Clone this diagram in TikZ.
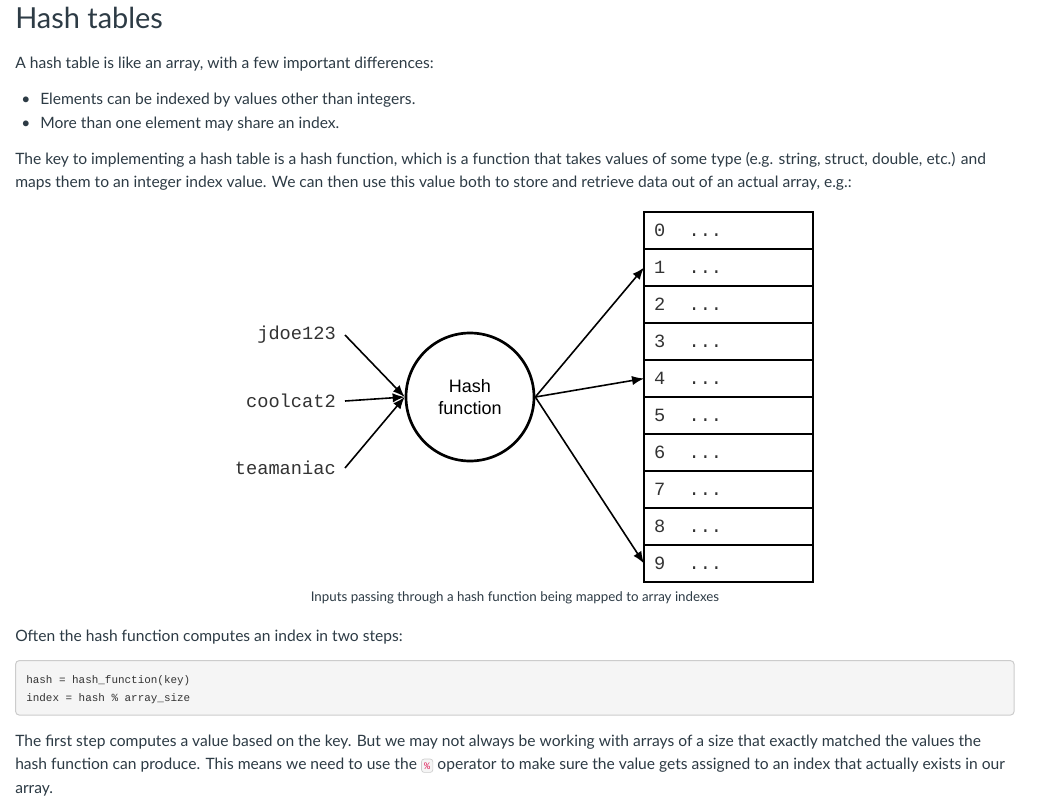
\documentclass[tikz,border=0pt]{standalone}
\usepackage{fontspec}
\setmainfont{Lato}
\newfontfamily\keyfont{Liberation Mono}
\newfontfamily\boxfont{Liberation Sans}
\usetikzlibrary{positioning,arrows.meta}
\definecolor{pagetext}{HTML}{2D3B45}
\definecolor{codebg}{HTML}{F5F5F5}
\definecolor{codeline}{HTML}{CCCCCC}
\definecolor{codered}{HTML}{E0245E}
\definecolor{diagtext}{HTML}{333333}

\tikzset{
  para/.style={anchor=base west, inner sep=0pt, text=pagetext, font=\fontsize{11.7}{14}\selectfont},
  heading/.style={anchor=base west, inner sep=0pt, text=pagetext, font=\fontsize{21.7}{26}\selectfont},
  caption/.style={anchor=base, inner sep=0pt, text=pagetext, font=\fontsize{10}{12}\selectfont},
  cell/.style={draw, line width=1.8pt, outer sep=0pt, minimum height=27.75pt, text width=111.7pt,
    inner xsep=7.5pt, align=left, text=diagtext, font=\keyfont\fontsize{14}{14}\selectfont},
  keylabel/.style={anchor=east, inner xsep=6.75pt, inner ysep=0pt, text=diagtext, font=\keyfont\fontsize{14}{14}\selectfont},
  hashfn/.style={circle, draw, line width=2pt, minimum size=96pt, align=center,
    font=\boxfont\fontsize{13.5}{16.5}\selectfont},
  flow/.style={line width=1.2pt, -{Latex[length=9pt,width=7pt]}},
  codeblock/.style={draw=codeline, fill=codebg, rounded corners=3pt, line width=0.75pt, anchor=north west,
    minimum width=749pt, minimum height=41pt},
  codetxt/.style={anchor=base west, inner sep=0pt, text=diagtext, font=\keyfont\fontsize{8.2}{10}\selectfont},
  inlinecode/.style={anchor=base west, draw=codeline, fill=codebg, rounded corners=2pt, line width=0.5pt,
    inner xsep=2pt, inner ysep=2.5pt, text=codered, font=\keyfont\fontsize{7.5}{9}\selectfont}
}

\begin{document}
\begin{tikzpicture}[x=0.75pt,y=-0.75pt]
\useasboundingbox[fill=white] (0,0) rectangle (1057,807);

\node[heading] (title) at (15,28) {Hash tables};
\node[para] (intro) at (15,68) {A hash table is like an array, with a few important differences:};
\node[para] (dot1) at (21,104) {\textbullet};
\node[para] (bul1) at (40,104) {Elements can be indexed by values other than integers.};
\node[para] (dot2) at (21,128) {\textbullet};
\node[para] (bul2) at (40,128) {More than one element may share an index.};
\node[para] (key1) at (15,164) {The key to implementing a hash table is a hash function, which is a function that takes values of some type (e.g. string, struct, double, etc.) and};
\node[para] (key2) at (15,187) {maps them to an integer index value. We can then use this value both to store and retrieve data out of an actual array, e.g.:};

% the array
\foreach \i in {0,...,9}
  \node[cell] (r\i) at (728.5,{230.5+37*\i}) {\i\hspace{17.5pt}...};

\node[hashfn] (hf) at (470,397) {Hash\\function};

\node[keylabel] (jdoe) at (345,335) {jdoe123};
\node[keylabel] (cool) at (345,401) {coolcat2};
\node[keylabel] (tea) at (345,468) {teamaniac};

\draw[flow] (jdoe.east) -- (hf.west);
\draw[flow] (cool.east) -- (hf.west);
\draw[flow] (tea.east) -- (hf.west);
\draw[flow] (hf.east) -- (r1.west);
\draw[flow] (hf.east) -- (r4.west);
\draw[flow] (hf.east) -- (r9.west);

\node[caption] (cap) at (515,601) {Inputs passing through a hash function being mapped to array indexes};

\node[para] (often) at (15,641) {Often the hash function computes an index in two steps:};

\node[codeblock] (code) at (15,660) {};
\node[codetxt] (code1) at (26,683) {hash = hash\_function(key)};
\node[codetxt] (code2) at (26,701) {index = hash \% array\_size};

\node[para] (last1) at (15,746) {The first step computes a value based on the key. But we may not always be working with arrays of a size that exactly matched the values the};
\node[para] (last2) at (15,769) {hash function can produce. This means we need to use the};
\node[inlinecode] (pct) at ([xshift=3pt]last2.base east) {\%};
\node[para] (last3) at ([xshift=3pt]pct.base east) {operator to make sure the value gets assigned to an index that actually exists in our};
\node[para] (last4) at (15,793) {array.};
\end{tikzpicture}
\end{document}
